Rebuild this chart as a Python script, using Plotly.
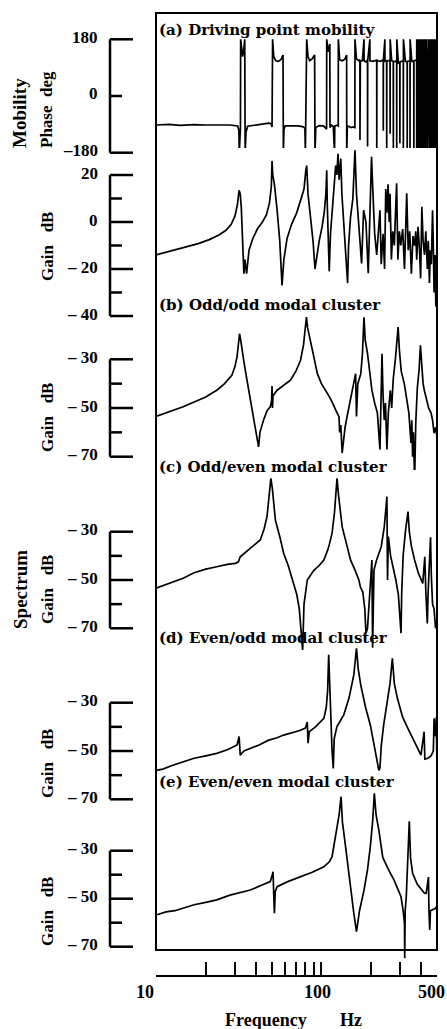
import math
import plotly.graph_objects as go

# ---------------- data ----------------
# (a) driving point mobility - phase (deg)
phase_freq = [
    10, 12, 14, 17, 20, 24, 28, 31.2, 31.7, 31.9,
    32.1, 32.4, 32.5, 32.9, 33.4, 34.0, 34.4, 34.6, 35.0, 35.8,
    40, 45, 48, 49.6, 50.3, 50.7, 51.5, 53, 55, 57,
    58.6, 58.9, 59.4, 60.5, 66, 72, 77, 79.5, 80.0, 80.5,
    81.5, 83, 85, 88, 91.0, 91.5, 92.5, 97, 103, 107.5,
    107.7, 110, 112.5, 112.7, 115, 118, 120, 120.5, 124, 126.4,
    126.6, 129, 134, 139, 142.1, 142.3, 143.5, 147, 151, 155,
    159.4, 159.6, 163, 168, 170.9, 171.1, 172, 177, 181, 181.3,
    186, 190, 190.2, 190.5, 196.4, 196.6, 205, 216, 216.2, 216.5,
    228, 236.6, 236.8, 237, 242, 242.3, 248, 248.3, 248.6, 256,
    260, 260.3, 260.6, 266, 272, 272.3, 272.6, 280, 285.2, 285.4,
    285.7, 292, 298, 298.3, 298.6, 305, 312.8, 313, 313.3, 322,
    330, 330.3, 330.6, 343.4, 343.6, 343.9, 352, 362, 362.3, 362.6,
    376.6, 376.8, 377, 381, 381.3, 384, 387, 387.3, 392, 392.3,
    392.6, 396, 396.3, 401, 401.3, 405, 405.3, 409, 409.3, 413,
    413.3, 417, 417.3, 420.6, 424, 424.3, 427, 427.3, 431, 431.3,
    435, 435.3, 439, 439.3, 443, 443.3, 447, 447.3, 451, 451.3,
    455, 455.3, 459, 459.3, 463, 463.3, 467, 467.3, 471, 471.3,
    475, 475.3, 479, 479.3, 483, 483.3, 487, 487.3, 491, 491.3,
    495, 495.3, 499, 500,
]
phase_deg = [
    -92, -90, -93, -91, -92, -91, -92, -95, -110, -180,
    -105, -100, 180, 140, 125, 150, 180, -180, -115, -96,
    -93, -90, -86, -88, -98, 180, 125, 112, 110, 116,
    130, -180, -105, -95, -94, -95, -97, -102, -180, -100,
    180, 125, 112, 118, 130, -180, -100, -94, -95, -105,
    180, 140, 165, -100, -92, -97, -180, -95, -93, -95,
    180, 115, 112, 118, 130, -180, -95, -97, -100, -98,
    -100, 180, 118, 112, 115, -140, 110, 112, 180, 112,
    108, 114, -160, 112, 180, 112, 110, 114, -170, 112,
    110, 115, -110, 112, 180, 110, 112, -180, 110, 112,
    115, -120, 180, 112, 110, -180, 108, 110, 112, -175,
    180, 105, 108, -150, 108, 110, 112, -180, 180, 110,
    108, -170, 110, 112, -180, 180, 110, 108, -180, 112,
    114, -180, 180, 112, -180, 180, 110, -170, 108, -180,
    180, 112, -180, 180, -150, 110, -180, 180, -180, 112,
    -180, 180, -180, 180, 110, -180, 180, -180, 180, -150,
    180, -180, 150, -180, 180, -120, 180, -180, 170, -180,
    180, -160, 180, -180, 180, -180, 140, -180, 180, -170,
    180, -180, 180, -180, 160, -180, 180, -140, 180, -180,
    180, -180, 180, -180,
]

# (a) driving point mobility - gain (dB)
gain_a_freq = [
    10, 12, 15, 18, 21, 24, 26.5, 28.5, 30, 31,
    31.8, 32.3, 32.8, 33.3, 34.0, 34.5, 35.3, 36.5, 38.5, 41,
    44, 46.5, 48.5, 49.8, 50.3, 50.8, 52, 54, 56, 57.8,
    59.3, 62, 66, 71, 75, 78.5, 80.5, 81.5, 83, 86,
    89, 91.5, 93, 97, 101, 104, 106.5, 107.7, 108.5, 110,
    111.5, 113.5, 116, 119, 122, 124, 126, 128, 131, 133,
    136, 140, 144, 146, 150, 155,
    159.6, 163, 168, 172, 175, 180, 186, 192, 196, 201,
    205, 210, 216, 222, 226, 230, 236, 241, 245, 249,
    253, 257, 260, 265, 270, 276, 281, 285, 290, 296,
    302, 310, 318, 324, 328, 335, 342, 350, 358, 366,
    372, 377, 384, 392, 398, 405, 412, 420, 428, 437,
    443, 450, 456, 462, 470, 475, 480, 486, 492, 500,
]
gain_a_db = [
    -14, -12.5, -10.8, -9.2, -7.5, -5.5, -3.5, -1, 2.5, 7,
    13.5, 12, 6, -5, -22, -16, -22, -12, -7, -3,
    0, 3, 8, 15, 26, 20, 16, 5, -8, -27,
    -16, -7, -1, 4, 9, 14, 22, 24, 12, 2,
    -8, -20, -16, -8, -2, 4, 12, 22, 8, -12,
    -21, -5, 5, 15, 24, 20, 29, 18, 27, 12,
    0, -12, -26, -10, 2, 10,
    30.5, 12, 0, -10, -17.6, 5, 0, -21.8, 5, 27.8,
    12, -5, -14, 0, 5, -18, -5, -20, 14, 4,
    16, 0, 12, -16, -4, -10, 2, 16.5, -16, -4,
    -10, -3, -20, 0, 12.2, -12, -4, -22, -6, -10,
    -4, -16, -2, -12, -24, 6.5, -8, -14, -4, -20,
    -8, -26, -12, -18, 5, -10, -30, -14, -36, -6,
]

# (b) odd/odd modal cluster
odd_odd_freq = [
    10, 11.5, 13, 14.6, 17, 20, 23.3, 26, 28.8, 30,
    30.9, 31.6, 32, 32.5, 33.1, 34, 35.5, 37, 38.9, 40.5,
    41.7, 42.5, 44.7, 47, 49.1, 50, 50.3, 50.6, 51, 54,
    58, 62, 65, 70, 74.8, 78, 80, 81.2, 82.5, 86,
    90, 94.5, 100, 108.7, 115, 122, 127.7, 129, 131, 133.5,
    136, 139, 143, 150, 156, 161, 163, 166, 173, 177,
    181, 184, 190, 196, 202, 210, 218, 226, 229, 232.5,
    236, 240, 244, 249, 254, 261, 266, 272, 280, 287,
    291, 296, 304, 317, 328, 338, 348, 352, 356, 360,
    366, 372, 380, 390, 397, 405, 412, 419, 430, 445,
    460, 470, 480, 490, 500,
]
odd_odd_db = [
    -53.5, -52, -51, -49.5, -47.5, -45.5, -42.7, -40, -36.5, -33,
    -29, -22, -19.5, -22, -26.3, -31, -38.6, -46, -54.9, -61,
    -66, -60, -54.9, -51, -49.5, -47, -41, -50, -45, -42.7,
    -41, -39.5, -38.6, -35, -30.4, -24, -18, -12.7, -17, -22.2,
    -29, -35.9, -40, -44, -47, -50.8, -53.5, -60, -57, -68.5,
    -62, -58, -53.5, -46, -40, -35.9, -53.5, -40, -36, -28,
    -12.7, -22, -27.6, -35, -42.7, -48, -52, -67, -45, -27.7,
    -45, -55, -48, -67, -52, -42.7, -50, -38, -30, -22,
    -16.8, -26, -35, -40, -46, -52, -64.4, -55, -70, -60,
    -80, -56, -42, -34, -24.3, -36, -40, -42.7, -46, -50,
    -52, -55, -60.3, -58, -62,
]

# (c) odd/even modal cluster
odd_even_freq = [
    10, 11.5, 13, 14.6, 17, 20, 23.3, 27, 30.2, 31.5,
    32.3, 36, 40, 42.7, 45, 46.9, 48.5, 49.5, 50.5, 52.7,
    56, 59.1, 63, 67.9, 71, 73.5, 75.5, 77, 78.5, 82.2,
    90, 97, 103.5, 110, 116, 120, 124.3, 127, 133.5, 140,
    150, 160, 168.5, 172, 178, 183, 186, 190, 193, 197,
    202, 204, 208, 215, 230, 240, 249, 251, 254, 262,
    272, 282, 292, 303, 306, 312, 322, 334, 340, 350,
    366, 385, 410, 422, 428, 437, 442, 457, 462, 470,
    480, 490, 500,
]
odd_even_db = [
    -53.4, -52, -50.5, -49.3, -47, -45.5, -44.5, -43.5, -43.1, -42.5,
    -40.4, -37.5, -35, -33.4, -29, -23.8, -15, -7.9, -12, -25.2,
    -32, -38.9, -44, -51.4, -56, -62, -72, -79, -60, -50,
    -46, -44, -41.7, -37, -30.7, -22, -7.9, -15, -27.9, -34,
    -41.7, -46, -50, -52.8, -55, -62, -72, -70, -62, -50,
    -41.7, -78, -45.9, -42, -36.2, -28, -15.5, -50, -32, -40,
    -45, -50, -56, -72, -55, -40, -30, -21.7, -30, -36,
    -41.7, -47, -51.4, -40.4, -55, -68, -55, -32.3, -48, -60,
    -62, -70, -68,
]

# (d) even/odd modal cluster
even_odd_freq = [
    10, 11, 12.5, 14.6, 17, 20, 23.3, 27, 30.9, 31.8,
    32.3, 34, 37.2, 42, 48, 54, 59.1, 66, 74, 80,
    82.2, 83, 84.5, 92, 103.5, 107, 109, 110.7, 112, 113.5,
    116, 118, 119.5, 124, 136.5, 147, 157, 163, 167, 173,
    185, 197.6, 212, 218, 222.5, 226, 230, 238, 250, 260,
    268.6, 276, 288, 310, 330, 348, 375, 400, 418, 422,
    440, 460, 475, 480, 490, 495, 500,
]
even_odd_db = [
    -58, -57.5, -56, -54.4, -53, -52, -51, -49.5, -47.5, -44,
    -51.7, -50, -48.9, -47.5, -45.5, -44.5, -43.4, -42.5, -41.5, -40.5,
    -38, -46.8, -42, -40, -36.5, -32, -25.4, -10.2, -22, -37.9,
    -50, -57.2, -45, -40, -35.1, -28, -18.5, -7.5, -16, -22.7,
    -32, -39.2, -50.3, -54, -58, -57, -48, -39.2, -30, -22,
    -11.6, -22, -28.2, -36, -40, -43.4, -48, -51.7, -42, -53.4,
    -53, -52, -50, -36.5, -44, -36, -58,
]

# (e) even/even modal cluster
even_even_freq = [
    10, 11.5, 13, 14.6, 17, 20, 23.3, 28, 33, 37.2,
    43, 49.1, 50.5, 51, 51.6, 52, 52.6, 54, 62, 74.8,
    88, 103.5, 112, 116, 120, 124.3, 128, 131.5, 134, 140,
    150, 157, 163, 170, 181, 190, 197.6, 204, 209, 214,
    222.5, 235, 255, 275, 290, 303, 312, 318, 319, 321,
    326, 334, 340, 346, 356, 380, 400, 420, 430, 444,
    447, 452, 456, 470, 490, 500,
]
even_even_db = [
    -56.8, -55.5, -55, -54, -52.5, -51.5, -50.5, -48.5, -47.2, -46.4,
    -44.5, -42.9, -40, -38.75, -50, -56.1, -47, -45, -43, -40.8,
    -39, -36.7, -34.5, -32.5, -27, -21.4, -15, -7.5, -18, -28.3,
    -46.4, -56, -63.75, -55, -46.4, -38, -28.3, -18, -6.1, -15,
    -21.4, -32.8, -38, -42.3, -46, -49.2, -55, -60.25, -74.8, -55,
    -49.2, -30, -17.7, -33, -39.4, -44, -46, -47.75, -47.8, -41,
    -55, -63, -55, -54.7, -54, -53,
]

# tick values and labels
x_tick_vals = [10, 20, 30, 40, 50, 60, 70, 80, 90, 100, 200, 300, 400, 500]
x_label_vals = [10, 100, 500]
x_label_text = ["10", "100", "500"]
x_label_shift = [-11, -4, -6]

phase_ticks = [180, 0, -180]
phase_tick_text = ["180", "0", "\u2013180"]
phase_minor = [0]

gain_a_ticks = [20, 0, -20, -40]
gain_a_tick_text = ["20", "0", "\u2013 20", "\u2013 40"]
gain_a_minor = [10, -10, -30]

cluster_ticks = [-30, -50, -70]
cluster_tick_text = ["\u2013 30", "\u2013 50", "\u2013 70"]
cluster_minor = [-40, -60]

panel_titles = [
    "(a) Driving point mobility",
    "(b) Odd/odd modal cluster",
    "(c) Odd/even modal cluster",
    "(d) Even/odd modal cluster",
    "(e) Even/even modal cluster",
]

# ---------------- geometry (pixels of the 447 x 1029 page) ----------------
W, H = 447, 1029
ML, MR, MT, MB = 156, 10, 13, 53
PW = W - ML - MR
PH = H - MT - MB


def px_x(x):
    return (x - ML) / PW


def px_y(y):
    return (H - MB - y) / PH


FONT = "Liberation Serif"
LABEL_FONT = "DejaVu Serif"
BAR_X, MAJ_END, MIN_END = 110, 133, 122
NB = "\u00a0"

panels = [
    dict(freq=phase_freq, vals=phase_deg, anchors=((180, 39.3), (-180, 152.7)), span=(14, 160),
         ticks=phase_ticks, tick_text=phase_tick_text, minor=phase_minor, title="Phase" + NB * 2 + "deg",
         title_y=110),
    dict(freq=gain_a_freq, vals=gain_a_db, anchors=((20, 175), (-40, 316)), span=(148, 322),
         ticks=gain_a_ticks, tick_text=gain_a_tick_text, minor=gain_a_minor, title="Gain" + NB * 3 + "dB",
         title_y=247),
    dict(freq=odd_odd_freq, vals=odd_odd_db, anchors=((-30, 359.3), (-70, 456.7)), span=(310, 485),
         ticks=cluster_ticks, tick_text=cluster_tick_text, minor=cluster_minor, title="Gain" + NB * 3 + "dB",
         title_y=418),
    dict(freq=odd_even_freq, vals=odd_even_db, anchors=((-30, 531.7), (-70, 628.3)), span=(470, 655),
         ticks=cluster_ticks, tick_text=cluster_tick_text, minor=cluster_minor, title="Gain" + NB * 3 + "dB",
         title_y=590),
    dict(freq=even_odd_freq, vals=even_odd_db, anchors=((-30, 702.7), (-70, 799.3)), span=(640, 808),
         ticks=cluster_ticks, tick_text=cluster_tick_text, minor=cluster_minor, title="Gain" + NB * 3 + "dB",
         title_y=764),
    dict(freq=even_even_freq, vals=even_even_db, anchors=((-30, 850.7), (-70, 946.7)), span=(785, 962),
         ticks=cluster_ticks, tick_text=cluster_tick_text, minor=cluster_minor, title="Gain" + NB * 3 + "dB",
         title_y=912),
]
label_y = [30, 305, 467, 638, 782]

for p in panels:
    assert len(p["freq"]) == len(p["vals"]), (len(p["freq"]), len(p["vals"]))

fig = go.Figure()
layout_axes = {}
shapes = []
annotations = []

for i, p in enumerate(panels, start=1):
    yname = "y" if i == 1 else f"y{i}"
    ykey = "yaxis" if i == 1 else f"yaxis{i}"
    (v1, p1), (v2, p2) = p["anchors"]
    s = (v2 - v1) / (p2 - p1)
    ptop, pbot = p["span"]
    vtop = v1 + (ptop - p1) * s
    vbot = v1 + (pbot - p1) * s
    layout_axes[ykey] = dict(domain=[px_y(pbot), px_y(ptop)], range=[vbot, vtop], visible=False,
                             anchor="x", showgrid=False, zeroline=False)
    fig.add_trace(go.Scatter(x=p["freq"], y=p["vals"], xaxis="x", yaxis=yname, mode="lines",
                             line=dict(color="black", width=1.7), hoverinfo="skip", showlegend=False))
    # stand-alone scale bar at the left
    all_ticks = p["ticks"] + p["minor"]
    shapes.append(dict(type="line", xref="paper", yref=yname, x0=px_x(BAR_X), x1=px_x(BAR_X),
                       y0=min(all_ticks), y1=max(all_ticks), line=dict(color="black", width=2.5)))
    for t in p["ticks"]:
        if t in p["minor"]:
            continue
        shapes.append(dict(type="line", xref="paper", yref=yname, x0=px_x(BAR_X), x1=px_x(MAJ_END),
                           y0=t, y1=t, line=dict(color="black", width=2.5)))
    for t in p["minor"]:
        shapes.append(dict(type="line", xref="paper", yref=yname, x0=px_x(BAR_X), x1=px_x(MIN_END),
                           y0=t, y1=t, line=dict(color="black", width=2.5)))
    for t, txt in zip(p["ticks"], p["tick_text"]):
        annotations.append(dict(x=px_x(100), y=t, xref="paper", yref=yname, text=f"<b>{txt}</b>",
                                showarrow=False, xanchor="right", yanchor="middle", yshift=2,
                                font=dict(family=FONT, size=17, color="black")))
    annotations.append(dict(x=px_x(47), y=px_y(p["title_y"]), xref="paper", yref="paper",
                            text=f"<b>{p['title']}</b>", textangle=-90, showarrow=False,
                            xanchor="center", yanchor="middle",
                            font=dict(family=FONT, size=17, color="black")))

for txt, ly in zip(panel_titles, label_y):
    annotations.append(dict(x=px_x(157), y=px_y(ly), xref="paper", yref="paper", text=f"<b>{txt}</b>",
                            showarrow=False, xanchor="left", yanchor="middle",
                            font=dict(family=LABEL_FONT, size=15, color="black")))

annotations.append(dict(x=px_x(20), y=px_y(113), xref="paper", yref="paper", text="<b>Mobility</b>",
                        textangle=-90, showarrow=False, xanchor="center", yanchor="middle",
                        font=dict(family=FONT, size=19, color="black")))
annotations.append(dict(x=px_x(20), y=px_y(590), xref="paper", yref="paper", text="<b>Spectrum</b>",
                        textangle=-90, showarrow=False, xanchor="center", yanchor="middle",
                        font=dict(family=FONT, size=19, color="black")))

for v, txt, sh in zip(x_label_vals, x_label_text, x_label_shift):
    annotations.append(dict(x=math.log10(v), y=px_y(992), xref="x", yref="paper", text=f"<b>{txt}</b>",
                            showarrow=False, xanchor="center", yanchor="middle", xshift=sh,
                            font=dict(family=FONT, size=18, color="black")))
annotations.append(dict(x=px_x(266), y=px_y(1020), xref="paper", yref="paper", text="<b>Frequency</b>",
                        showarrow=False, xanchor="center", yanchor="middle",
                        font=dict(family=FONT, size=18, color="black")))
annotations.append(dict(x=px_x(351), y=px_y(1020), xref="paper", yref="paper", text="<b>Hz</b>",
                        showarrow=False, xanchor="center", yanchor="middle",
                        font=dict(family=FONT, size=18, color="black")))

# outer frame around all panels
shapes.append(dict(type="rect", xref="paper", yref="paper", x0=0, x1=1, y0=px_y(950), y1=px_y(13),
                   line=dict(color="black", width=2)))

fig.update_layout(
    width=W, height=H,
    margin=dict(l=ML, r=MR, t=MT, b=MB, pad=0),
    paper_bgcolor="white", plot_bgcolor="white",
    showlegend=False,
    xaxis=dict(type="log", range=[1, math.log10(500)], anchor="free", position=0,
               showline=True, linecolor="black", linewidth=2, ticks="inside", ticklen=19,
               tickwidth=2, tickcolor="black", tickvals=x_tick_vals, showticklabels=False,
               showgrid=False, zeroline=False),
    shapes=shapes,
    annotations=annotations,
    **layout_axes,
)

fig.write_html("out.html", config={"displayModeBar": False},
               post_script="document.body.style.margin='0px';")
